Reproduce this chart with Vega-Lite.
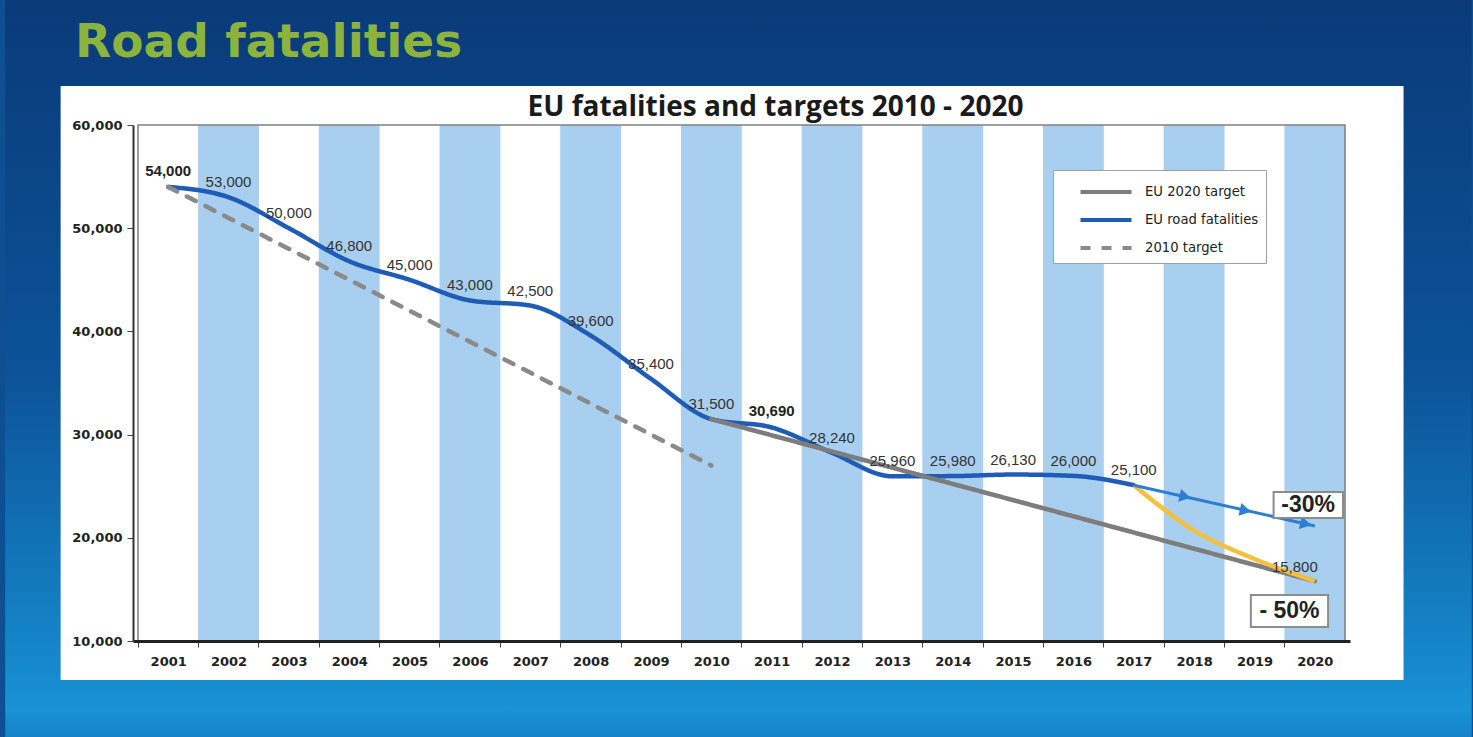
{
  "$schema": "https://vega.github.io/schema/vega-lite/v6.json",
  "width": 1217,
  "height": 516,
  "autosize": {"type": "none"},
  "padding": {"left": 133, "top": 125, "right": 123, "bottom": 96},
  "background": "#0e4f92",
  "config": {
    "view": {"stroke": null},
    "legend": {
      "orient": "none",
      "legendX": 920,
      "legendY": 45,
      "fillColor": "white",
      "strokeColor": "#a0a0a0",
      "padding": 7,
      "labelFont": "DejaVu Sans",
      "labelFontSize": 13.2,
      "labelColor": "#222222",
      "symbolType": "M-2,0L2,0",
      "symbolSize": 650,
      "symbolStrokeWidth": 4,
      "labelOffset": 24,
      "rowPadding": 5,
      "symbolOffset": 31
    }
  },
  "title": {
    "text": "Road fatalities",
    "font": "DejaVu Sans",
    "fontSize": 47,
    "fontWeight": "bold",
    "color": "#8bb33e",
    "anchor": "start",
    "frame": "group",
    "baseline": "alphabetic",
    "dx": -58,
    "offset": -106
  },
  "datasets": {
    "lines": [
      {"series": "EU road fatalities", "year": 2001, "value": 54000},
      {"series": "EU road fatalities", "year": 2002, "value": 53000},
      {"series": "EU road fatalities", "year": 2003, "value": 50000},
      {"series": "EU road fatalities", "year": 2004, "value": 46800},
      {"series": "EU road fatalities", "year": 2005, "value": 45000},
      {"series": "EU road fatalities", "year": 2006, "value": 43000},
      {"series": "EU road fatalities", "year": 2007, "value": 42500},
      {"series": "EU road fatalities", "year": 2008, "value": 39600},
      {"series": "EU road fatalities", "year": 2009, "value": 35400},
      {"series": "EU road fatalities", "year": 2010, "value": 31500},
      {"series": "EU road fatalities", "year": 2011, "value": 30690},
      {"series": "EU road fatalities", "year": 2012, "value": 28240},
      {"series": "EU road fatalities", "year": 2013, "value": 25960},
      {"series": "EU road fatalities", "year": 2014, "value": 25980},
      {"series": "EU road fatalities", "year": 2015, "value": 26130},
      {"series": "EU road fatalities", "year": 2016, "value": 26000},
      {"series": "EU road fatalities", "year": 2017, "value": 25100},
      {"series": "EU 2020 target", "year": 2010, "value": 31500},
      {"series": "EU 2020 target", "year": 2020, "value": 15800},
      {"series": "2010 target", "year": 2001, "value": 54000},
      {"series": "2010 target", "year": 2010, "value": 27000}
    ],
    "bands": [
      {"year": 2002}, {"year": 2004}, {"year": 2006}, {"year": 2008}, {"year": 2010},
      {"year": 2012}, {"year": 2014}, {"year": 2016}, {"year": 2018}, {"year": 2020}
    ],
    "yellow": [
      {"year": 2017, "value": 25100},
      {"year": 2018, "value": 20700},
      {"year": 2019, "value": 17950},
      {"year": 2020, "value": 15800}
    ],
    "arrow": [
      {"year": 2017, "value": 25100},
      {"year": 2020, "value": 21150}
    ],
    "arrowheads": [
      {"year": 2018, "value": 23800},
      {"year": 2019, "value": 22450},
      {"year": 2020, "value": 21150}
    ]
  },
  "layer": [
    {
      "data": {"values": [{}]},
      "mark": {
        "type": "rect",
        "fill": {
          "gradient": "linear", "x1": 0, "y1": 0, "x2": 0, "y2": 1,
          "stops": [
            {"offset": 0, "color": "#0a3a78"},
            {"offset": 0.5, "color": "#0c5298"},
            {"offset": 0.9, "color": "#1688cc"},
            {"offset": 0.96, "color": "#1a94d6"},
            {"offset": 1, "color": "#1580c6"}
          ]
        }
      },
      "encoding": {
        "x": {
          "datum": 1998.3, "type": "quantitative",
          "scale": {"domain": [2000.5, 2020.5], "nice": false, "zero": false},
          "axis": {
            "values": [2001, 2002, 2003, 2004, 2005, 2006, 2007, 2008, 2009, 2010, 2011, 2012, 2013, 2014, 2015, 2016, 2017, 2018, 2019, 2020],
            "format": "d",
            "title": null,
            "zindex": 1,
            "grid": false,
            "tickOffset": -30.425,
            "labelOffset": 30.425,
            "labelFlush": false,
            "labelOverlap": false,
            "labelFont": "DejaVu Sans",
            "labelFontSize": 13,
            "labelFontWeight": "bold",
            "labelColor": "#222222",
            "labelPadding": 8,
            "domainColor": "#222222",
            "domainWidth": 3,
            "tickColor": "#444444",
            "tickSize": 6
          }
        },
        "x2": {"datum": 2022.6},
        "y": {
          "datum": 72300, "type": "quantitative",
          "scale": {"domain": [10000, 60000], "nice": false, "zero": false},
          "axis": {
            "values": [10000, 20000, 30000, 40000, 50000, 60000],
            "format": ",d",
            "zindex": 1,
            "grid": false,
            "labelFlush": false,
            "labelFont": "DejaVu Sans",
            "labelFontSize": 13,
            "labelFontWeight": "bold",
            "labelColor": "#222222",
            "labelPadding": 5,
            "domainColor": "#333333",
            "domainWidth": 2,
            "tickColor": "#444444",
            "tickSize": 6,
            "title": "EU fatalities and targets 2010  - 2020",
            "titleX": 642,
            "titleY": -10,
            "titleAngle": 0,
            "titleAlign": "center",
            "titleBaseline": "alphabetic",
            "titleFont": "Open Sans",
            "titleFontSize": 28,
            "titleFontWeight": "bold",
            "titleColor": "#1a1a1a"
          }
        },
        "y2": {"datum": 500}
      }
    },
    {
      "data": {"values": [{}]},
      "mark": {"type": "rect", "fill": "white"},
      "encoding": {
        "x": {"datum": 1999.218, "type": "quantitative", "scale": {"domain": [2000.5, 2020.5], "nice": false, "zero": false}},
        "x2": {"datum": 2021.47},
        "y": {"datum": 63779, "type": "quantitative", "scale": {"domain": [10000, 60000], "nice": false, "zero": false}},
        "y2": {"datum": 6221}
      }
    },
    {
      "data": {"name": "bands"},
      "mark": {"type": "bar", "orient": "vertical", "size": 60.85, "color": "#a9cff0"},
      "encoding": {
        "x": {"field": "year", "type": "quantitative", "scale": {"domain": [2000.5, 2020.5], "nice": false, "zero": false}},
        "y": {"datum": 60000, "type": "quantitative", "scale": {"domain": [10000, 60000], "nice": false, "zero": false}},
        "y2": {"datum": 10000}
      }
    },
    {
      "data": {"values": [{}]},
      "mark": {"type": "rect", "fill": null, "fillOpacity": 0, "stroke": "#808080", "strokeWidth": 1.5},
      "encoding": {
        "x": {"datum": 2000.5, "type": "quantitative", "scale": {"domain": [2000.5, 2020.5], "nice": false, "zero": false}},
        "x2": {"datum": 2020.5},
        "y": {"datum": 60000, "type": "quantitative", "scale": {"domain": [10000, 60000], "nice": false, "zero": false}},
        "y2": {"datum": 10000}
      }
    },
    {
      "data": {"name": "lines"},
      "mark": {"type": "line", "strokeWidth": 4.5, "interpolate": "monotone", "strokeCap": "round"},
      "encoding": {
        "x": {"field": "year", "type": "quantitative", "scale": {"domain": [2000.5, 2020.5], "nice": false, "zero": false}},
        "y": {"field": "value", "type": "quantitative", "scale": {"domain": [10000, 60000], "nice": false, "zero": false}},
        "color": {
          "field": "series", "type": "nominal",
          "scale": {"domain": ["EU 2020 target", "EU road fatalities", "2010 target"], "range": ["#7d7d7d", "#1f5cb5", "#8a8a8a"]},
          "legend": {"title": null}
        },
        "strokeDash": {
          "field": "series", "type": "nominal",
          "scale": {"domain": ["EU 2020 target", "EU road fatalities", "2010 target"], "range": [[1, 0], [1, 0], [10, 11]]},
          "legend": {"title": null}
        }
      }
    },
    {
      "data": {"name": "yellow"},
      "mark": {"type": "line", "strokeWidth": 4.5, "interpolate": "monotone", "color": "#f4c03e"},
      "encoding": {
        "x": {"field": "year", "type": "quantitative", "scale": {"domain": [2000.5, 2020.5], "nice": false, "zero": false}},
        "y": {"field": "value", "type": "quantitative", "scale": {"domain": [10000, 60000], "nice": false, "zero": false}}
      }
    },
    {
      "data": {"name": "arrow"},
      "mark": {"type": "line", "strokeWidth": 3, "color": "#2a7fd2"},
      "encoding": {
        "x": {"field": "year", "type": "quantitative", "scale": {"domain": [2000.5, 2020.5], "nice": false, "zero": false}},
        "y": {"field": "value", "type": "quantitative", "scale": {"domain": [10000, 60000], "nice": false, "zero": false}}
      }
    },
    {
      "data": {"name": "arrowheads"},
      "mark": {"type": "point", "shape": "triangle-right", "filled": true, "opacity": 1, "size": 170, "angle": 12.6, "color": "#2a7fd2", "xOffset": -9, "yOffset": -2},
      "encoding": {
        "x": {"field": "year", "type": "quantitative", "scale": {"domain": [2000.5, 2020.5], "nice": false, "zero": false}},
        "y": {"field": "value", "type": "quantitative", "scale": {"domain": [10000, 60000], "nice": false, "zero": false}}
      }
    },
    {
      "data": {"name": "lines"},
      "transform": [{"filter": "datum.series == 'EU road fatalities' && datum.year != 2001 && datum.year != 2011"}],
      "mark": {"type": "text", "font": "Liberation Sans", "fontSize": 15, "color": "#333333", "dy": -15},
      "encoding": {
        "x": {"field": "year", "type": "quantitative", "scale": {"domain": [2000.5, 2020.5], "nice": false, "zero": false}},
        "y": {"field": "value", "type": "quantitative", "scale": {"domain": [10000, 60000], "nice": false, "zero": false}},
        "text": {"field": "value", "type": "quantitative", "format": ",d"}
      }
    },
    {
      "data": {"name": "lines"},
      "transform": [{"filter": "datum.series == 'EU road fatalities' && (datum.year == 2001 || datum.year == 2011)"}],
      "mark": {"type": "text", "font": "Liberation Sans", "fontSize": 15, "fontWeight": "bold", "color": "#222222", "dy": -16},
      "encoding": {
        "x": {"field": "year", "type": "quantitative", "scale": {"domain": [2000.5, 2020.5], "nice": false, "zero": false}},
        "y": {"field": "value", "type": "quantitative", "scale": {"domain": [10000, 60000], "nice": false, "zero": false}},
        "text": {"field": "value", "type": "quantitative", "format": ",d"}
      }
    },
    {
      "data": {"name": "lines"},
      "transform": [{"filter": "datum.series == 'EU 2020 target' && datum.year == 2020"}],
      "mark": {"type": "text", "font": "Liberation Sans", "fontSize": 15, "color": "#333333", "dy": -14, "dx": -20},
      "encoding": {
        "x": {"field": "year", "type": "quantitative", "scale": {"domain": [2000.5, 2020.5], "nice": false, "zero": false}},
        "y": {"field": "value", "type": "quantitative", "scale": {"domain": [10000, 60000], "nice": false, "zero": false}},
        "text": {"field": "value", "type": "quantitative", "format": ",d"}
      }
    },
    {
      "data": {"values": [{}]},
      "mark": {"type": "rect", "fill": "white", "stroke": "#8c8c8c", "strokeWidth": 2},
      "encoding": {
        "x": {"datum": 2019.317, "type": "quantitative", "scale": {"domain": [2000.5, 2020.5], "nice": false, "zero": false}},
        "x2": {"datum": 2020.467},
        "y": {"datum": 24438, "type": "quantitative", "scale": {"domain": [10000, 60000], "nice": false, "zero": false}},
        "y2": {"datum": 21919}
      }
    },
    {
      "data": {"values": [{}]},
      "mark": {"type": "rect", "fill": "white", "stroke": "#8c8c8c", "strokeWidth": 2},
      "encoding": {
        "x": {"datum": 2018.94, "type": "quantitative", "scale": {"domain": [2000.5, 2020.5], "nice": false, "zero": false}},
        "x2": {"datum": 2020.22},
        "y": {"datum": 14457, "type": "quantitative", "scale": {"domain": [10000, 60000], "nice": false, "zero": false}},
        "y2": {"datum": 11357}
      }
    },
    {
      "data": {"values": [{"label": "-30%", "year": 2019.89, "value": 23178}, {"label": "- 50%", "year": 2019.58, "value": 12907}]},
      "mark": {"type": "text", "font": "Liberation Sans", "fontSize": 23, "fontWeight": "bold", "color": "#222222", "baseline": "middle"},
      "encoding": {
        "x": {"field": "year", "type": "quantitative", "scale": {"domain": [2000.5, 2020.5], "nice": false, "zero": false}},
        "y": {"field": "value", "type": "quantitative", "scale": {"domain": [10000, 60000], "nice": false, "zero": false}},
        "text": {"field": "label"}
      }
    }
  ]
}
